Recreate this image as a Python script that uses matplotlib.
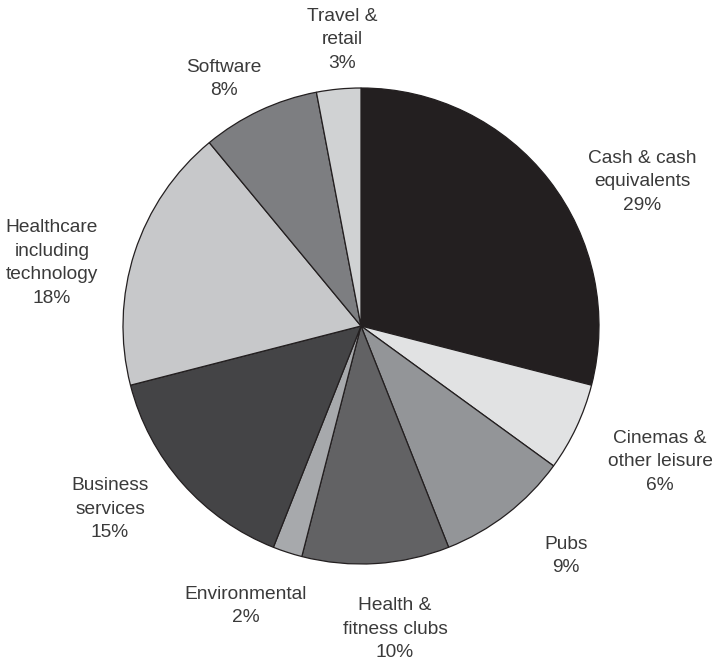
import matplotlib.pyplot as plt

sectors = ['Cash & cash\nequivalents', 'Cinemas &\nother leisure', 'Pubs',
           'Health &\nfitness clubs', 'Environmental', 'Business\nservices',
           'Healthcare\nincluding\ntechnology', 'Software', 'Travel &\nretail']
shares = [29, 6, 9, 10, 2, 15, 18, 8, 3]
colors = ['#231f20', '#e1e2e3', '#939598', '#626264', '#a7a9ac',
          '#444446', '#c7c8ca', '#7d7e81', '#d0d2d3']

# label anchor points (pixels from top-left, centre of text block)
label_pos = [(642, 182), (660, 462), (566, 556), (395, 629), (246, 606),
             (110, 509), (52, 263), (224, 79), (342, 40)]

W, H = 712, 662
plt.rcParams['font.family'] = ['Liberation Sans', 'DejaVu Sans']

fig = plt.figure(figsize=(W / 100, H / 100), dpi=100)
ax = fig.add_axes([0, 0, 1, 1])

ax.pie(shares, colors=colors, startangle=90, counterclock=False,
       center=(361, H - 326), radius=238, frame=True,
       wedgeprops=dict(edgecolor='#231f20', linewidth=0.9))
ax.set_xlim(0, W)
ax.set_ylim(0, H)
ax.set_aspect('equal')
ax.axis('off')

for name, val, (x, y) in zip(sectors, shares, label_pos):
    ax.text(x, H - y, f'{name}\n{val}%', ha='center', va='center',
            fontsize=13.8, color='#3a3a3a', linespacing=1.5)

fig.savefig('out.png', dpi=100)
